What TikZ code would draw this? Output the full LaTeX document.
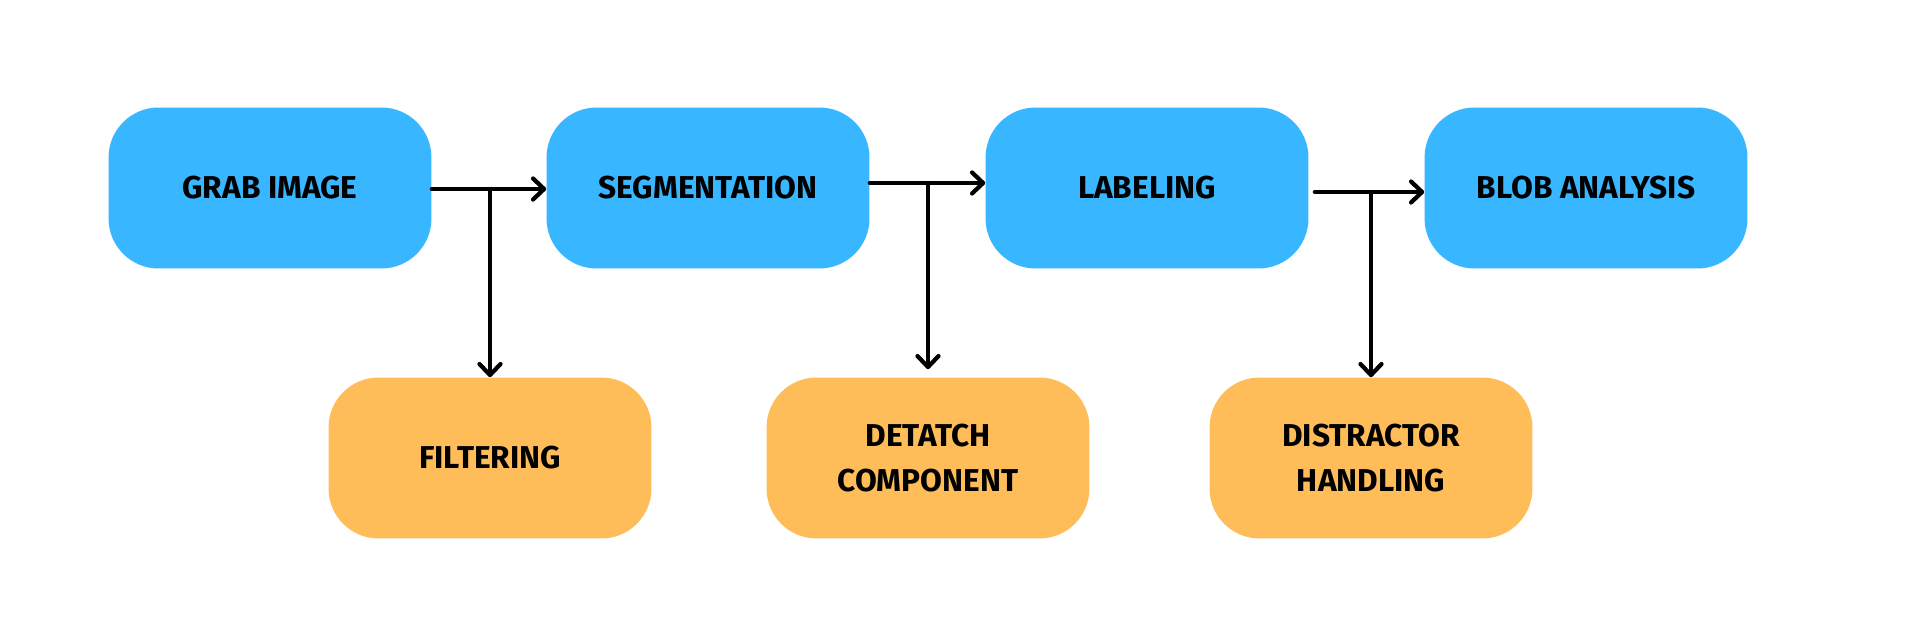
\documentclass[tikz,border=0pt]{standalone}
\usepackage{fontspec}
\setmainfont{Fira Sans}
\usepackage{tikz}
\usetikzlibrary{arrows.meta, positioning}
\definecolor{stepblue}{HTML}{38B6FF}
\definecolor{sideorange}{HTML}{FFBD59}
\tikzset{
  mainbox/.style  = {rectangle, rounded corners=1.0cm, fill=stepblue,
                     minimum width=6.46cm, minimum height=3.22cm,
                     align=center, inner sep=0pt,
                     font=\fontsize{18}{26}\selectfont\bfseries},
  sidebox/.style  = {mainbox, fill=sideorange},
  flow/.style     = {-{Straight Barb[length=0.22cm, width=0.42cm, round]},
                     line width=0.085cm, line cap=round, draw=black},
}
\begin{document}
\begin{tikzpicture}[x=0.02cm, y=-0.02cm]
  \useasboundingbox (0,0) rectangle (1920,622);

  \node[mainbox] (grab)  at (270, 188)  {GRAB IMAGE};
  \node[mainbox] (seg)   at (708, 188)  {SEGMENTATION};
  \node[mainbox] (label) at (1147, 188) {LABELING};
  \node[mainbox] (blob)  at (1586, 188) {BLOB ANALYSIS};

  \node[sidebox] (filter)   at (490, 458)  {FILTERING};
  \node[sidebox] (detatch)  at (928, 458)  {DETATCH\\COMPONENT};
  \node[sidebox] (distract) at (1371, 458) {DISTRACTOR\\HANDLING};

  % branch points on the main line
  \coordinate (b1) at (filter.north |- 0,189);
  \coordinate (b2) at (detatch.north |- 0,183);
  \coordinate (b3) at (distract.north |- 0,192);

  \draw[flow] (grab.east |- b1) -- (seg.west |- b1);
  \draw[flow] (seg.east |- b2) -- (label.west |- b2);
  \draw[flow] ([xshift=0.12cm]label.east |- b3) -- (blob.west |- b3);

  \draw[flow] (b1) -- (filter.north);
  \draw[flow] (b2) -- ([yshift=0.16cm]detatch.north);
  \draw[flow] (b3) -- (distract.north);
\end{tikzpicture}
\end{document}
